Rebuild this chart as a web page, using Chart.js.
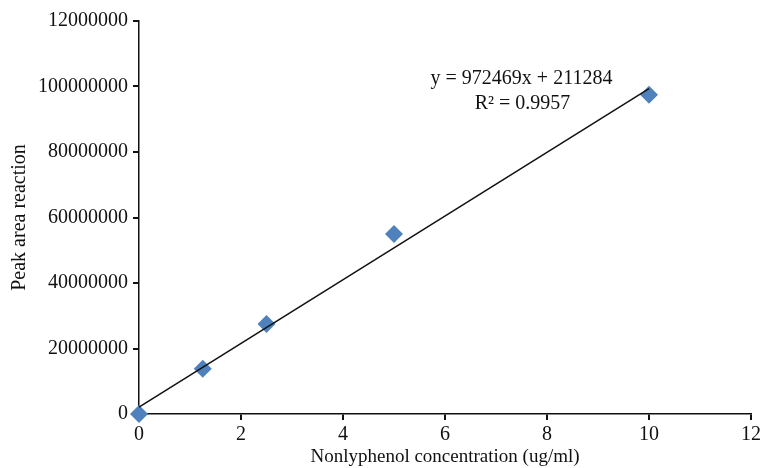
<!DOCTYPE html>
<html lang="en">
<head>
  <meta charset="UTF-8">
  <title>Nonlyphenol calibration</title>
  <script src="https://cdn.jsdelivr.net/npm/chart.js"></script>
  <style>
    html, body {
      margin: 0;
      padding: 0;
      background: #fff;
    }
    .chart-box {
      width: 764px;
      height: 468px;
      position: relative;
    }
  </style>
</head>
<body>
  <div class="chart-box">
    <canvas id="calChart"></canvas>
  </div>

  <script>
    // Calibration points
    const concentration = [0, 1.25, 2.5, 5, 10];
    const peakArea = [0, 13800000, 27500000, 55000000, 97500000];

    // Linear trendline end points
    const trendX = [0, 10];
    const trendY = [2110000, 99360000];

    // Tick labels (top one as printed in the original)
    const yTicks = [0, 20000000, 40000000, 60000000, 80000000, 100000000, 120000000];
    const yTickLabels = ['0', '20000000', '40000000', '60000000', '80000000', '100000000', '12000000'];
    const xTicks = [0, 2, 4, 6, 8, 10, 12];

    const equationLines = ['y = 972469x + 211284', 'R² = 0.9957'];

    const serif = '"Liberation Serif", "DejaVu Serif", serif';

    // Draws the regression text above the line
    const equationPlugin = {
      id: 'equation',
      afterDatasetsDraw(chart) {
        const ctx = chart.ctx;
        const x = chart.scales.x.getPixelForValue(7.5);
        const y = chart.scales.y.getPixelForValue(102500000);
        ctx.save();
        ctx.fillStyle = '#111';
        ctx.font = '20px ' + serif;
        ctx.textAlign = 'center';
        ctx.textBaseline = 'middle';
        ctx.fillText(equationLines[0], x, y);
        ctx.fillText(equationLines[1], x + 1, y + 25);
        ctx.restore();
      }
    };

    const ctx = document.getElementById('calChart').getContext('2d');
    new Chart(ctx, {
      type: 'scatter',
      data: {
        datasets: [
          {
            type: 'line',
            label: 'Trend',
            data: trendX.map((x, i) => ({ x: x, y: trendY[i] })),
            borderColor: '#111',
            borderWidth: 1.5,
            pointRadius: 0,
            fill: false
          },
          {
            label: 'Peak area',
            data: concentration.map((x, i) => ({ x: x, y: peakArea[i] })),
            pointStyle: 'rectRot',
            pointRadius: 9,
            backgroundColor: '#4f81bd',
            borderColor: '#4f81bd',
            borderWidth: 0,
            clip: false
          }
        ]
      },
      options: {
        responsive: true,
        maintainAspectRatio: false,
        animation: false,
        layout: {
          padding: { top: 21, right: 12, left: 8, bottom: 0 }
        },
        plugins: {
          legend: { display: false },
          tooltip: { enabled: false }
        },
        scales: {
          x: {
            type: 'linear',
            min: 0,
            max: 12,
            afterBuildTicks(axis) {
              axis.ticks = xTicks.map(v => ({ value: v }));
            },
            afterFit(axis) {
              axis.height = 54;
            },
            grid: {
              drawOnChartArea: false,
              drawTicks: true,
              tickLength: 6,
              color: '#111',
              lineWidth: 2
            },
            border: { display: true, color: '#111', width: 1.5 },
            ticks: {
              color: '#111',
              padding: 3,
              maxRotation: 0,
              font: { family: serif, size: 20 }
            },
            title: {
              display: true,
              text: 'Nonlyphenol concentration (ug/ml)',
              color: '#111',
              padding: { top: 0, bottom: 0 },
              font: { family: serif, size: 19 }
            }
          },
          y: {
            type: 'linear',
            min: 0,
            max: 120000000,
            afterBuildTicks(axis) {
              axis.ticks = yTicks.map(v => ({ value: v }));
            },
            afterFit(axis) {
              axis.width = 131;
            },
            grid: {
              drawOnChartArea: false,
              drawTicks: true,
              tickLength: 6,
              color: '#111',
              lineWidth: 2
            },
            border: { display: true, color: '#111', width: 1.5 },
            ticks: {
              color: '#111',
              padding: 5,
              font: { family: serif, size: 20 },
              callback: function(value) {
                const i = yTicks.indexOf(value);
                return i >= 0 ? yTickLabels[i] : '';
              }
            },
            title: {
              display: true,
              text: 'Peak area reaction',
              color: '#111',
              padding: { top: 0, bottom: 4 },
              font: { family: serif, size: 20 }
            }
          }
        }
      },
      plugins: [equationPlugin]
    });
  </script>
</body>
</html>
